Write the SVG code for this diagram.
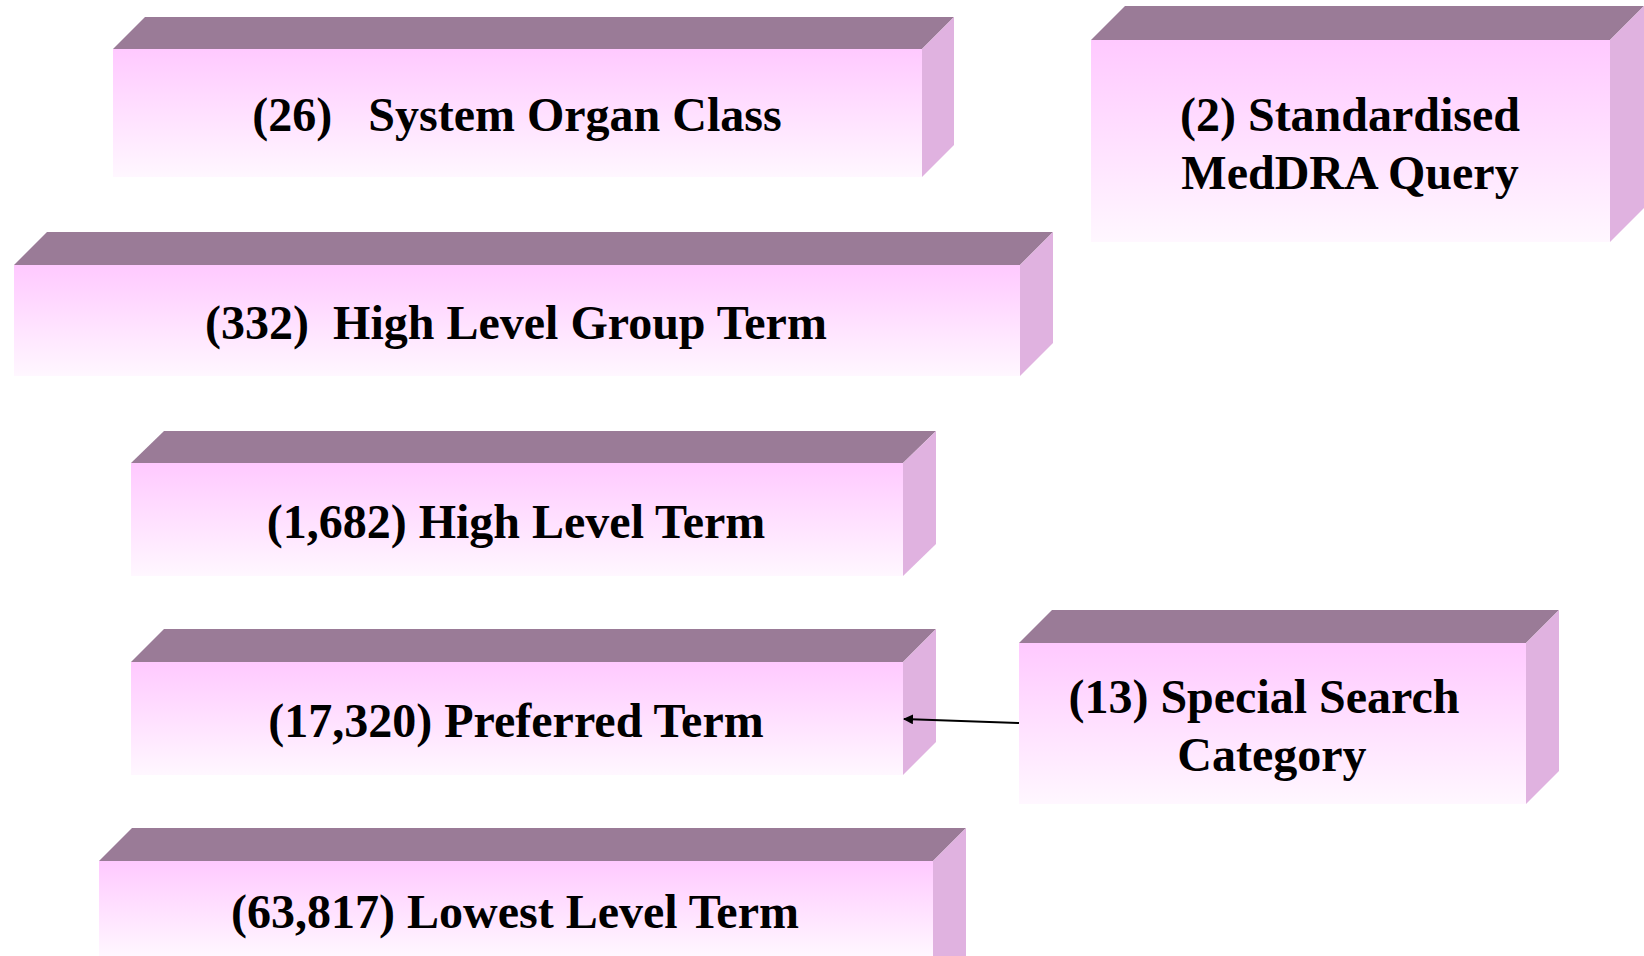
<svg xmlns="http://www.w3.org/2000/svg" width="1644" height="956" viewBox="0 0 1644 956">
  <defs>
    <linearGradient id="frontFill" x1="0" y1="0" x2="0" y2="1">
      <stop offset="0" stop-color="#ffc9ff"/>
      <stop offset="1" stop-color="#fff7ff"/>
    </linearGradient>
    <marker id="arrowHead" viewBox="0 0 10 10" refX="9" refY="5" markerWidth="10" markerHeight="10" markerUnits="userSpaceOnUse" orient="auto">
      <path d="M0,0 L10,5 L0,10 z" fill="#000"/>
    </marker>
    <style>
      .front { fill: url(#frontFill); }
      .top { fill: #9a7b97; }
      .side { fill: #e0b2e0; }
      .label { font-family: "Liberation Serif", "Times New Roman", serif; font-weight: bold; font-size: 48px; fill: #000; text-anchor: middle; white-space: pre; }
      .link { stroke: #000; stroke-width: 2; fill: none; }
    </style>
  </defs>
  <rect width="1644" height="956" fill="#ffffff"/>

  <!-- System Organ Class -->
  <g id="soc">
    <polygon class="top" points="113,49 145,17 954,17 922,49"/>
    <polygon class="side" points="922,49 954,17 954,145 922,177"/>
    <rect class="front" x="113" y="49" width="809" height="128"/>
    <text class="label" x="517" y="131" xml:space="preserve">(26)   System Organ Class</text>
  </g>

  <!-- Standardised MedDRA Query -->
  <g id="smq">
    <polygon class="top" points="1091,40 1125,6 1644,6 1610,40"/>
    <polygon class="side" points="1610,40 1644,6 1644,208 1610,242"/>
    <rect class="front" x="1091" y="40" width="519" height="202"/>
    <text class="label" x="1350" y="131">(2) Standardised</text>
    <text class="label" x="1350" y="189">MedDRA Query</text>
  </g>

  <!-- High Level Group Term -->
  <g id="hlgt">
    <polygon class="top" points="14,265 47,232 1053,232 1020,265"/>
    <polygon class="side" points="1020,265 1053,232 1053,343 1020,376"/>
    <rect class="front" x="14" y="265" width="1006" height="111"/>
    <text class="label" x="516" y="339" xml:space="preserve">(332)  High Level Group Term</text>
  </g>

  <!-- High Level Term -->
  <g id="hlt">
    <polygon class="top" points="131,463 164,431 936,431 903,463"/>
    <polygon class="side" points="903,463 936,431 936,544 903,576"/>
    <rect class="front" x="131" y="463" width="772" height="113"/>
    <text class="label" x="516" y="538">(1,682) High Level Term</text>
  </g>

  <!-- Preferred Term -->
  <g id="pt">
    <polygon class="top" points="131,662 164,629 936,629 903,662"/>
    <polygon class="side" points="903,662 936,629 936,742 903,775"/>
    <rect class="front" x="131" y="662" width="772" height="113"/>
    <text class="label" x="516" y="737">(17,320) Preferred Term</text>
  </g>

  <!-- Lowest Level Term -->
  <g id="llt">
    <polygon class="top" points="99,861 132,828 966,828 933,861"/>
    <polygon class="side" points="933,861 966,828 966,956 933,956"/>
    <rect class="front" x="99" y="861" width="834" height="95"/>
    <text class="label" x="515" y="928">(63,817) Lowest Level Term</text>
  </g>

  <!-- Special Search Category -->
  <g id="ssc">
    <polygon class="top" points="1019,643 1052,610 1559,610 1526,643"/>
    <polygon class="side" points="1526,643 1559,610 1559,771 1526,804"/>
    <rect class="front" x="1019" y="643" width="507" height="161"/>
    <text class="label" x="1264" y="713">(13) Special Search</text>
    <text class="label" x="1272" y="771">Category</text>
  </g>

  <!-- Connectors -->
  <g id="connectors">
    <line class="link" x1="1019" y1="723" x2="904" y2="719" marker-end="url(#arrowHead)"/>
  </g>
</svg>
